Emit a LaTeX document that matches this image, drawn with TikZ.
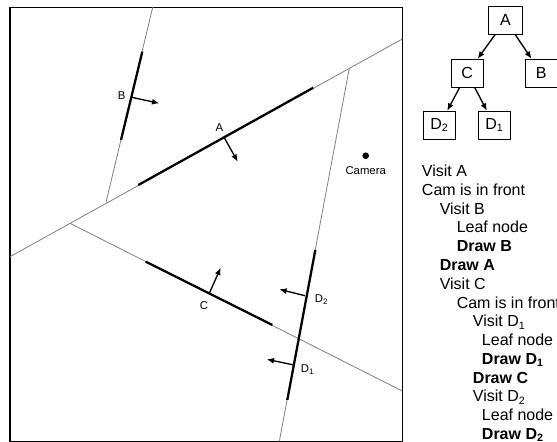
\documentclass[tikz,border=0pt]{standalone}
\usepackage{fontspec}
\setmainfont{Liberation Sans}
\usetikzlibrary{arrows.meta}
\begin{document}
\begin{tikzpicture}[x=0.75pt,y=-0.75pt,
  plane/.style={black!50,line width=0.6pt},
  poly/.style={black,line width=1.7pt},
  normal/.style={-{Latex[length=5.5pt,width=4.5pt]},line width=1pt},
  lbl/.style={font=\fontsize{8.5}{9}\selectfont,inner sep=0pt},
  treebox/.style={draw,line width=0.7pt,minimum width=24pt,minimum height=21pt,inner sep=0pt,font=\fontsize{12}{14}\selectfont},
  step0/.style={anchor=base west,inner sep=0pt,font=\fontsize{12}{14}\selectfont}]
\useasboundingbox (0,0) rectangle (557,442);
\draw[line width=0.8pt] (10,7.3) rectangle (402.3,441.5);
\draw[plane] (10,256.7) -- (402.3,39);
\draw[plane] (152.7,7.3) -- (106,202.3);
\draw[plane] (70,223.3) -- (402.3,391);
\draw[plane] (349.3,68.3) -- (279.3,441.5);
\draw[poly] (142.3,51.7) -- (121,140);
\draw[poly] (138.3,185) -- (313.3,87.7);
\draw[poly] (145.7,261.7) -- (272.3,325);
\draw[poly] (315.3,250) -- (287.3,400);
\draw[normal] (131.7,97.3) -- (159.3,103.3);
\draw[normal] (224.3,137.7) -- (237.7,161.7);
\draw[normal] (209.3,293.3) -- (220.7,267.7);
\draw[normal] (305,295.7) -- (279.3,289.3);
\draw[normal] (294,365) -- (266.7,359.3);
\node[lbl] (labB) at (121.7,95.7) {B};
\node[lbl] (labA) at (219.3,127.7) {A};
\node[lbl] (labC) at (204,306) {C};
\node[lbl] (labD2) at (321.5,300) {D\textsubscript{2}};
\node[lbl] (labD1) at (307.5,369.3) {D\textsubscript{1}};
\fill (365.7,155.7) circle (3.3);
\node[lbl] (cam) at (365.7,170.5) {Camera};
\node[treebox,minimum width=25.5pt] (a) at (505.5,20.2) {A};
\node[treebox] (c) at (467.2,73.3) {C};
\node[treebox] (b) at (541.3,73.3) {B};
\node[treebox] (d2) at (439.5,125.2) {D\textsubscript{2}};
\node[treebox] (d1) at (494.5,125.2) {D\textsubscript{1}};
\draw[normal] (a) -- (c);
\draw[normal] (a) -- (b);
\draw[normal] (c) -- (d2);
\draw[normal] (c) -- (d1);
\node[step0] (s1) at (421.7,176.7) {Visit A};
\node[step0] (s2) at (421.7,195.5) {Cam is in front};
\node[step0] (s3) at (439.5,214.2) {Visit B};
\node[step0] (s4) at (456.5,233) {Leaf node};
\node[step0] (s5) at (456.5,251.7) {\textbf{Draw B}};
\node[step0] (s6) at (439.5,270.5) {\textbf{Draw A}};
\node[step0] (s7) at (439.5,289.3) {Visit C};
\node[step0] (s8) at (456.5,308) {Cam is in front};
\node[step0] (s9) at (472.7,326.8) {Visit D\textsubscript{1}};
\node[step0] (s10) at (481.7,345.5) {Leaf node};
\node[step0] (s11) at (481.7,364.3) {\textbf{Draw D\textsubscript{1}}};
\node[step0] (s12) at (472.7,383) {\textbf{Draw C}};
\node[step0] (s13) at (472.7,401.8) {Visit D\textsubscript{2}};
\node[step0] (s14) at (481.7,420.5) {Leaf node};
\node[step0] (s15) at (481.7,439.3) {\textbf{Draw D\textsubscript{2}}};
\end{tikzpicture}
\end{document}
